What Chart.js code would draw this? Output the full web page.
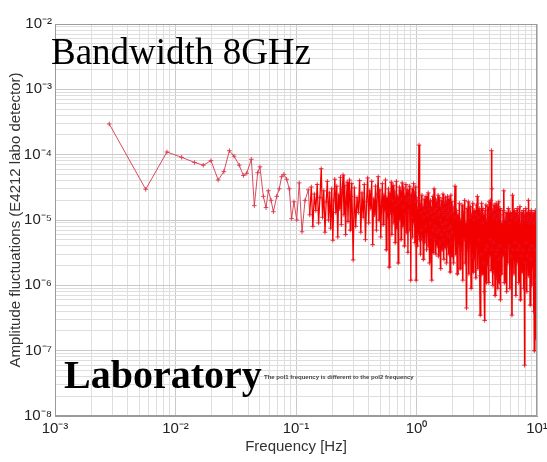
<!DOCTYPE html>
<html>
<head>
<meta charset="utf-8">
<script src="https://cdn.jsdelivr.net/npm/chart.js@4/dist/chart.umd.min.js"></script>
<style>
html,body{margin:0;padding:0;background:#fff;}
#wrap{width:547px;height:462px;}
</style>
</head>
<body>
<div id="wrap"><canvas id="c" width="547" height="462"></canvas></div>
<script>
// ---- data ----
const freqA = [0.00282,0.00566,0.00849,0.01125,0.0144,0.0170,0.0197,0.0226,0.0252,0.0280,0.0306,0.0338,0.0366,0.0390,0.0426,0.0451,0.0481,0.0502,0.0536,0.0564,0.0589,0.0621,0.0649,0.0692,0.0726,0.0760,0.0794,0.0837,0.0879,0.0920,0.0961,0.1014,0.1064,0.1122,0.1189,0.1265];
const ampA = [2.95e-4,2.95e-5,1.1e-4,9.1e-5,7.6e-5,6.9e-5,8.1e-5,4.1e-5,5.5e-5,1.15e-4,9.5e-5,6.9e-5,4.8e-5,5.2e-5,8.5e-5,1.66e-5,5.3e-5,6.5e-5,2.3e-5,1.55e-5,2.8e-5,2.0e-5,1.34e-5,2.3e-5,3.0e-5,4.6e-5,5.0e-5,4.2e-5,3.0e-5,1.05e-5,1.9e-5,1.0e-5,3.7e-5,6.6e-6,2.0e-5,2.9e-5];

const freqB = [0.130,0.134,0.138,0.142,0.146,0.150,0.154,0.158,0.162,0.166,
0.170,0.174,0.178,0.182,0.186,0.190,0.194,0.198,0.202,0.206,
0.210,0.214,0.218,0.222,0.226,0.230,0.234,0.238,0.242,0.246,
0.250,0.254,0.258,0.262,0.266,0.270,0.274,0.278,0.282,0.286,
0.290,0.294,0.298];
const ampB = [1.2e-5,3.2e-5,8e-6,2.5e-5,1.4e-5,3.5e-5,9e-6,2.2e-5,6.1e-5,1.1e-5,
2.8e-5,6.5e-6,1.9e-5,3.9e-5,1.0e-5,2.6e-5,7.5e-6,3.0e-5,4.9e-6,2.0e-5,
4.2e-5,1.3e-5,3.3e-5,5.5e-6,2.4e-5,1.5e-5,4.5e-5,8.5e-6,2.9e-5,4.9e-5,
1.2e-5,3.4e-5,6e-6,2.1e-5,3.8e-5,9.5e-6,2.7e-5,4.1e-5,7e-6,2.3e-5,
3.6e-5,1.1e-5,2.45e-6];

const freqC = [0.305,0.313,0.321,0.329,0.337,0.345,0.353,0.361,0.369,0.377,
0.385,0.393,0.401,0.409,0.417,0.425,0.433,0.441,0.449,0.457,
0.465,0.473,0.481,0.489,0.497,0.505,0.513,0.521,0.529,0.537,
0.545,0.553,0.561,0.569,0.577,0.585,0.593,0.601,0.609,0.617,
0.625,0.633,0.641,0.649,0.657,0.665,0.673,0.681,0.689,0.697,
0.705,0.713,0.721,0.729,0.737,0.745,0.753,0.761,0.769,0.777,
0.785,0.793,0.801,0.809,0.817,0.825,0.833,0.841,0.849,0.857,
0.865,0.873,0.881,0.889,0.897,0.905,0.913,0.921,0.929,0.937,
0.945,0.953,0.961,0.969,0.977,0.985,0.993];
const ampC = [3.1e-5,8e-6,2.2e-5,1.3e-5,4.0e-5,6.5e-6,2.6e-5,1.1e-5,3.5e-5,5e-6,
1.9e-5,4.4e-5,9e-6,2.8e-5,1.5e-5,3.9e-5,4.2e-6,2.1e-5,1.2e-5,3.3e-5,
7e-6,2.5e-5,4.6e-5,1.0e-5,2.9e-5,5.5e-6,1.8e-5,3.6e-5,8.5e-6,2.4e-5,
1.4e-5,4.1e-5,3.5e-6,2.2e-5,1.1e-5,3.0e-5,1.9e-6,2.6e-5,1.3e-5,3.8e-5,
6e-6,2.0e-5,3.4e-5,9e-6,2.7e-5,4.5e-6,1.7e-5,3.9e-5,7.5e-6,2.3e-5,
2.2e-6,1.9e-5,3.2e-5,1.0e-5,2.8e-5,5e-6,2.1e-5,3.7e-5,8e-6,1.6e-5,
3.1e-5,4e-6,2.4e-5,1.2e-5,3.5e-5,6.5e-6,2.0e-5,2.9e-5,3.2e-6,2.2e-5,
1.4e-5,3.3e-5,7e-6,1.8e-5,1.2e-6,2.5e-5,1.1e-5,3.0e-5,5.5e-6,2.1e-5,
3.6e-5,9e-6,2.6e-5,4.5e-6,1.9e-5,3.2e-5,1.2e-6];

const freqD = [1.00,1.01,1.02,1.03,1.04,1.05,1.06,1.07,1.08,1.09,
1.10,1.11,1.12,1.13,1.14,1.15,1.16,1.17,1.18,1.19,
1.20,1.21,1.22,1.23,1.24,1.25,1.26,1.27,1.28,1.29,
1.30,1.31,1.32,1.33,1.34,1.35,1.36,1.37,1.38,1.39,
1.40,1.41,1.42,1.43,1.44,1.45,1.46,1.47,1.48,1.49,
1.50,1.51,1.52,1.53,1.54,1.55,1.56,1.57,1.58,1.59,
1.60,1.61,1.62,1.63,1.64,1.65,1.66,1.67,1.68,1.69,
1.70,1.71,1.72,1.73,1.74,1.75,1.76,1.77,1.78,1.79,
1.80,1.81,1.82,1.83,1.84,1.85,1.86,1.87,1.88,1.89,
1.90,1.91,1.92,1.93,1.94,1.95,1.96,1.97,1.98,1.99];
const ampD = [2.2e-5,4e-6,1.5e-5,6e-6,2.0e-5,1.4e-4,5e-6,1.8e-5,3e-6,1.3e-5,
7e-6,2.4e-5,5e-6,1.6e-5,2.5e-6,1.1e-5,2.1e-5,4.5e-6,1.4e-5,8e-6,
2.3e-5,3.5e-6,1.7e-5,6e-6,1.2e-5,2.6e-5,4e-6,1.5e-5,2.2e-6,1.9e-5,
9e-6,2.0e-5,5.5e-6,1.3e-5,1.2e-6,1.6e-5,7e-6,2.3e-5,3.2e-6,1.1e-5,
3.0e-5,5e-6,1.4e-5,8e-6,2.1e-5,3e-6,1.5e-5,6.5e-6,1.9e-5,4e-6,
1.2e-5,2.4e-5,2.8e-6,1.7e-5,7e-6,1.3e-5,2.2e-5,4.5e-6,1.0e-5,1.8e-6,
1.6e-5,6e-6,2.0e-5,3.5e-6,1.4e-5,8.5e-6,2.5e-5,5e-6,1.2e-5,2.5e-6,
1.8e-5,7e-6,1.5e-5,3.8e-6,2.2e-5,9e-6,1.3e-5,2.2e-6,1.9e-5,6e-6,
1.1e-5,2.3e-5,4e-6,1.6e-5,7.5e-6,1.4e-5,3e-6,2.1e-5,5.5e-6,1.2e-5,
1.6e-6,1.7e-5,8e-6,2.4e-5,4.5e-6,1.3e-5,6.5e-6,1.9e-5,2.8e-6,1.5e-5];

const freqE = [2.00,2.03,2.06,2.09,2.12,2.15,2.18,2.21,2.24,2.27,
2.30,2.33,2.36,2.39,2.42,2.45,2.48,2.51,2.54,2.57,
2.60,2.63,2.66,2.69,2.72,2.75,2.78,2.81,2.84,2.87,
2.90,2.93,2.96,2.99,3.02,3.05,3.08,3.11,3.14,3.17,
3.20,3.23,3.26,3.29,3.32,3.35,3.38,3.41,3.44,3.47,
3.50,3.53,3.56,3.59,3.62,3.65,3.68,3.71,3.74,3.77,
3.80,3.83,3.86,3.89,3.92,3.95,3.98,4.01,4.04,4.07,
4.10,4.13,4.16,4.19,4.22,4.25,4.28,4.31,4.34,4.37,
4.40,4.43,4.46,4.49,4.52,4.55,4.58,4.61,4.64,4.67,
4.70,4.73,4.76,4.79,4.82,4.85,4.88,4.91,4.94,4.97];
const ampE = [1.6e-5,2.2e-6,1.1e-5,3.3e-5,3e-6,1.4e-5,1.5e-6,1.2e-5,4e-6,1.8e-5,
1.8e-6,1.0e-5,3.5e-6,1.7e-5,1.2e-6,1.3e-5,5e-6,2.0e-5,2.2e-6,9e-6,
4.5e-7,1.5e-5,3.5e-6,1.9e-5,1.5e-6,1.1e-5,4e-6,1.6e-5,9e-7,1.2e-5,
2.8e-6,1.8e-5,1.6e-6,1.0e-5,1.4e-5,2.5e-6,1.2e-5,1.3e-6,1.7e-5,3.5e-6,
2.3e-5,1.8e-6,1.1e-5,5e-6,1.5e-5,1.4e-6,3.5e-7,1.3e-5,3e-6,1.8e-5,
1.5e-6,9e-6,1.5e-5,2.2e-6,1.2e-5,8e-7,2.9e-7,1.4e-5,3.5e-6,1.7e-5,
1.1e-6,1.0e-5,4e-6,1.6e-5,2e-6,1.2e-5,1.1e-6,1.9e-5,2.8e-6,1.3e-5,
5e-6,2.0e-5,1.7e-6,1.15e-4,3e-5,3.5e-6,1.4e-5,1.0e-6,1.1e-5,4.5e-6,
1.7e-5,1.5e-6,1.2e-5,7e-7,1.5e-5,3e-6,1.8e-5,1.3e-6,1.0e-5,3.5e-6,
1.6e-5,9e-7,1.3e-5,2.5e-6,1.9e-5,1.1e-6,1.1e-5,4e-6,1.5e-5,6e-7];

const freqF = [5.00,5.06,5.12,5.18,5.24,5.30,5.36,5.42,5.48,5.54,
5.60,5.66,5.72,5.78,5.84,5.90,5.96,6.02,6.08,6.14,
6.20,6.26,6.32,6.38,6.44,6.50,6.56,6.62,6.68,6.74,
6.80,6.86,6.92,6.98,7.04,7.10,7.16,7.22,7.28,7.34,
7.40,7.46,7.52,7.58,7.64,7.70,7.76,7.82,7.88,7.94,
8.00,8.06,8.12,8.18,8.24,8.30,8.36,8.42,8.48,8.54,
8.60,8.66,8.72,8.78,8.84,8.90,8.96,9.02,9.08,9.14,
9.20,9.26,9.32,9.38,9.44,9.50,9.56,9.62,9.68,9.74,
9.80,9.86,9.92,9.98];
const ampF = [1.2e-5,1.5e-6,9e-6,2.8e-6,1.4e-5,2.8e-5,1.1e-6,1.0e-5,3.5e-6,1.3e-5,
8e-7,1.1e-5,2.2e-6,1.5e-5,4e-6,9e-6,9e-7,1.3e-5,2.8e-6,1.1e-5,
3.5e-7,2.4e-5,3.5e-6,1.2e-5,1.5e-6,1.4e-5,4.5e-6,1.0e-5,7e-7,1.3e-5,
2.2e-6,1.5e-5,3.5e-6,1.1e-5,1.1e-6,1.2e-5,4e-6,1.6e-5,6e-7,9e-6,
2.8e-6,1.3e-5,1.6e-6,1.1e-5,3.5e-6,1.4e-5,9e-7,1.0e-5,6e-8,1.2e-5,
2.2e-6,1.5e-5,4.5e-6,1.0e-5,8e-7,1.3e-5,2.8e-6,1.1e-5,2.0e-5,1.4e-6,
9e-6,3.5e-6,1.3e-5,5e-7,1.0e-5,2.5e-6,1.4e-5,1.0e-6,1.1e-5,4e-6,
1.2e-5,1.8e-6,9e-6,4e-7,1.3e-5,1e-7,1.0e-5,3.5e-6,1.4e-5,1.2e-6,
1.1e-5,1.5e-7,1.2e-5,2.2e-6];

const xMajorTicks = [1e-3,1e-2,1e-1,1,10];
const xTickLabels = ['10\u207B\u00B3','10\u207B\u00B2','10\u207B\u00B9','10\u2070','10\u00B9'];
const yMajorTicks = [1e-8,1e-7,1e-6,1e-5,1e-4,1e-3,1e-2];
const yTickLabels = ['10\u207B\u2078','10\u207B\u2077','10\u207B\u2076','10\u207B\u2075','10\u207B\u2074','10\u207B\u00B3','10\u207B\u00B2'];

const xTitle = 'Frequency [Hz]';
const yTitle = 'Amplitude fluctuations (E4212 labo detector)';

// ---- build points ----
function zip(f, a) { const n = Math.min(f.length, a.length); const out = []; for (let i = 0; i < n; i++) out.push({x: f[i], y: a[i]}); return out; }
const points = [].concat(zip(freqA, ampA), zip(freqB, ampB), zip(freqC, ampC), zip(freqD, ampD), zip(freqE, ampE), zip(freqF, ampF));

function logTicks(majors) {
  const t = [];
  for (let i = 0; i < majors.length - 1; i++) {
    for (let m = 1; m <= 9; m++) t.push({value: Number((m * majors[i]).toPrecision(10))});
  }
  t.push({value: majors[majors.length - 1]});
  return t;
}
function isMajor(v, majors) { return majors.some(m => Math.abs(v / m - 1) < 1e-6); }
function labelFor(v, majors, labels) { for (let i = 0; i < majors.length; i++) if (Math.abs(v / majors[i] - 1) < 1e-6) return labels[i]; return ''; }

const FONT = "'Liberation Sans', Arial, sans-serif";
const SPARSE = 'rgba(215,55,75,0.9)';
const DENSE = 'rgb(242,0,0)';
const isSparse = x => x < 0.13;

const decor = {
  id: 'decor',
  beforeDraw(chart) {
    const ctx = chart.ctx;
    ctx.save();
    ctx.fillStyle = '#fff';
    ctx.fillRect(0, 0, chart.width, chart.height);
    ctx.restore();
  },
  afterDraw(chart) {
    const {ctx, chartArea: a} = chart;
    ctx.save();
    ctx.strokeStyle = '#9a9a9a';
    ctx.lineWidth = 1;
    ctx.strokeRect(a.left + 0.5, a.top + 0.5, a.right - a.left - 1, a.bottom - a.top - 1);
    ctx.fillStyle = '#000';
    ctx.textBaseline = 'alphabetic';
    ctx.textAlign = 'left';
    ctx.font = "37px 'Liberation Serif', 'Times New Roman', serif";
    ctx.fillText('Bandwidth 8GHz', 51, 64);
    ctx.font = "bold 40px 'Liberation Serif', 'Times New Roman', serif";
    ctx.fillText('Laboratory', 64, 388);
    ctx.fillStyle = '#444';
    ctx.font = "bold 6px 'Liberation Sans', Arial, sans-serif";
    ctx.fillText('The pol1 frequency is different to the pol2 frequency', 264, 379, 151);
    ctx.restore();
  }
};

new Chart(document.getElementById('c'), {
  type: 'line',
  data: {
    datasets: [{
      data: points,
      borderColor: DENSE,
      backgroundColor: DENSE,
      borderWidth: 1.3,
      segment: {
        borderColor: c => isSparse(c.p0.parsed.x) ? SPARSE : DENSE,
        borderWidth: c => isSparse(c.p0.parsed.x) ? 1 : (c.p0.parsed.x >= 1 ? 1.6 : 1.3)
      },
      pointStyle: 'cross',
      pointRadius: 2.3,
      pointBorderWidth: 1,
      pointBorderColor: c => (c.raw && isSparse(c.raw.x)) ? SPARSE : 'rgba(235,15,30,0.85)',
      fill: false,
      tension: 0
    }]
  },
  options: {
    responsive: false,
    animation: false,
    devicePixelRatio: 1,
    layout: {padding: {top: 24, right: 10, left: 0, bottom: 0}},
    plugins: {legend: {display: false}, tooltip: {enabled: false}},
    scales: {
      x: {
        type: 'logarithmic',
        min: 1e-3, max: 10,
        afterBuildTicks: s => { s.ticks = logTicks(xMajorTicks); },
        afterFit: s => { s.height = 46; s.paddingRight = 0; s.paddingLeft = 0; },
        grid: {
          color: c => (c.tick && isMajor(c.tick.value, xMajorTicks)) ? '#c9c9c9' : '#dedede',
          lineWidth: 1, drawTicks: false
        },
        border: {display: true, color: '#9a9a9a'},
        ticks: {
          autoSkip: false, maxRotation: 0, padding: 4,
          color: '#222', font: {family: FONT, size: 15},
          callback: v => labelFor(v, xMajorTicks, xTickLabels)
        },
        title: {display: true, text: xTitle, color: '#333', font: {family: FONT, size: 15}, padding: {top: 0, bottom: 6}}
      },
      y: {
        type: 'logarithmic',
        min: 1e-8, max: 1e-2,
        afterBuildTicks: s => { s.ticks = logTicks(yMajorTicks); },
        afterFit: s => { s.width = 55; },
        grid: {
          color: c => (c.tick && isMajor(c.tick.value, yMajorTicks)) ? '#c9c9c9' : '#dedede',
          lineWidth: 1, drawTicks: false
        },
        border: {display: true, color: '#9a9a9a'},
        ticks: {
          autoSkip: false, padding: 3,
          color: '#222', font: {family: FONT, size: 15},
          callback: v => labelFor(v, yMajorTicks, yTickLabels)
        },
        title: {display: true, text: yTitle, color: '#333', font: {family: FONT, size: 15}, padding: {top: 7, bottom: 0}}
      }
    }
  },
  plugins: [decor]
});
</script>
</body>
</html>
